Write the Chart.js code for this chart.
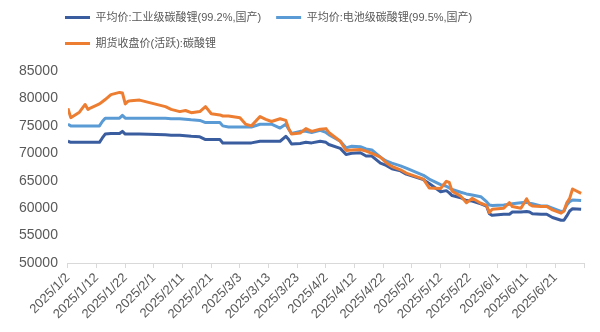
<!DOCTYPE html>
<html><head><meta charset="utf-8">
<script src="https://cdn.jsdelivr.net/npm/chart.js@4"></script>
<style>html,body{margin:0;padding:0;background:#fff}#wrap{width:600px;height:332px;position:relative}</style>
</head><body><div id="wrap"><canvas id="c"></canvas></div>
<script>
const seriesNames = ['平均价:工业级碳酸锂(99.2%,国产)', '平均价:电池级碳酸锂(99.5%,国产)', '期货收盘价(活跃):碳酸锂'];
const dates = ['1/2','1/3','1/6','1/8','1/9','1/10','1/13','1/14','1/15','1/17','1/20','1/21','1/22','1/23','1/24','1/27',
 '2/5','2/7','2/10','2/12','2/14','2/17','2/19','2/21','2/24','2/25','2/27',
 '3/3','3/5','3/7','3/10','3/12','3/14','3/17','3/19','3/20','3/21','3/24','3/26','3/28','3/31',
 '4/2','4/3','4/7','4/9','4/11','4/14','4/16','4/18','4/21','4/23','4/25','4/28','4/30',
 '5/6','5/8','5/12','5/14','5/15','5/16','5/19','5/21','5/23','5/26','5/28','5/29','5/30',
 '6/3','6/5','6/6','6/9','6/11','6/12','6/13','6/16','6/18','6/20','6/23','6/24','6/25','6/26','6/27','6/30'];
const industrial = [72200,72000,72000,72000,72000,72000,72000,72800,73500,73600,73600,74000,73500,73500,73500,73500,
 73400,73300,73300,73200,73100,73000,72500,72500,72500,71900,71900,
 71900,71900,71900,72200,72200,72200,72200,73100,72500,71700,71800,72000,71900,72200,
 72000,71600,70900,69800,70000,70100,69500,69500,68200,67800,67200,66800,66200,
 65200,64500,63000,63200,62800,62300,61900,61400,61300,60800,60400,59000,58700,
 58900,58900,59300,59300,59400,59300,59000,58900,58900,58300,57800,57800,58600,59500,59900,59800];
const battery = [75300,75000,75000,75000,75000,75000,75000,75800,76400,76400,76400,76900,76400,76400,76400,76400,
 76400,76300,76300,76200,76100,76000,75600,75600,75600,75000,74800,
 74800,74800,74800,75300,75300,75300,74600,75300,74400,73600,74000,74000,73800,74200,
 73800,73400,72200,71000,71300,71200,70800,70600,69300,68600,68200,67700,67300,
 66000,65300,64300,64000,63700,63400,62900,62600,62400,62100,61200,60600,60500,
 60600,60700,60800,61000,61100,60900,60800,60400,60400,60000,59400,59500,60600,61200,61500,61400];
const futures = [78200,76500,77500,78900,78000,78300,79000,79400,79800,80700,81100,81000,79000,79500,79600,79700,
 78500,78000,77600,77800,77400,77600,78500,77200,77000,76800,76800,
 76500,75300,75000,76700,76200,75800,76300,76000,74500,73500,73700,74500,74000,74400,
 74500,73800,72200,70500,70600,70700,70400,70000,69300,68300,67600,67000,66400,
 65300,63700,63600,64900,64700,63100,62200,61000,61800,60900,60500,59200,59800,
 60000,61000,60300,60000,61700,60700,60400,60300,60300,59700,59100,59500,61000,61800,63500,62700];
const yMin = 50000, yMax = 85000, yStep = 5000;
const xStepDays = 10, xMaxDays = 180;

const DAY = 864e5, T0 = Date.UTC(2025, 0, 2);
const dayOf = s => { const [m, d] = s.split('/').map(Number); return Math.round((Date.UTC(2025, m - 1, d) - T0) / DAY); };
const pts = arr => arr.map((v, i) => ({ x: dayOf(dates[i]), y: v }));
const fmtDay = v => { const dt = new Date(T0 + v * DAY); return `${dt.getUTCFullYear()}/${dt.getUTCMonth() + 1}/${dt.getUTCDate()}`; };

const colors = ['#3A5DA0', '#5B9BD5', '#ED7D31'];
const FONT = '"Liberation Sans", "Noto Sans CJK SC", sans-serif';

const legendShift = {
  id: 'legendShift',
  afterLayout(chart) { chart.legend.left = 50; chart.legend.top = -3; }
};

new Chart(document.getElementById('c'), {
  type: 'line',
  data: {
    datasets: [industrial, battery, futures].map((arr, i) => ({
      label: seriesNames[i],
      data: pts(arr),
      borderColor: colors[i],
      backgroundColor: colors[i],
      borderWidth: 3,
      pointRadius: 0,
      tension: 0,
      borderJoinStyle: 'round',
      order: 3 - i
    }))
  },
  options: {
    responsive: true,
    maintainAspectRatio: false,
    animation: false,
    layout: { padding: { left: 9, right: 16, top: 9, bottom: 8 } },
    plugins: {
      tooltip: { enabled: false },
      legend: {
        position: 'top',
        align: 'start',
        labels: {
          usePointStyle: true,
          pointStyle: 'line',
          pointStyleWidth: 25,
          padding: 15,
          color: '#595959',
          font: { family: FONT, size: 11 },
          sort: (a, b) => a.datasetIndex - b.datasetIndex
        }
      }
    },
    scales: {
      x: {
        type: 'linear',
        min: 0, max: xMaxDays,
        afterFit: s => { s.paddingLeft = 0; s.paddingRight = 0; },
        grid: { display: true, drawOnChartArea: false, drawTicks: true, tickLength: 5, color: '#D9D9D9' },
        border: { display: true, color: '#D9D9D9', width: 1 },
        ticks: {
          stepSize: xStepDays,
          autoSkip: false,
          maxRotation: 45, minRotation: 45,
          color: '#595959',
          font: { family: FONT, size: 13 },
          padding: 2,
          callback: v => (v >= xMaxDays ? '' : fmtDay(v))
        }
      },
      y: {
        min: yMin, max: yMax,
        grid: { display: false, drawTicks: false },
        border: { display: false },
        ticks: {
          stepSize: yStep,
          color: '#595959',
          padding: 10,
          font: { family: FONT, size: 14 },
          callback: v => String(v)
        }
      }
    }
  },
  plugins: [legendShift]
});
</script>
</body></html>
